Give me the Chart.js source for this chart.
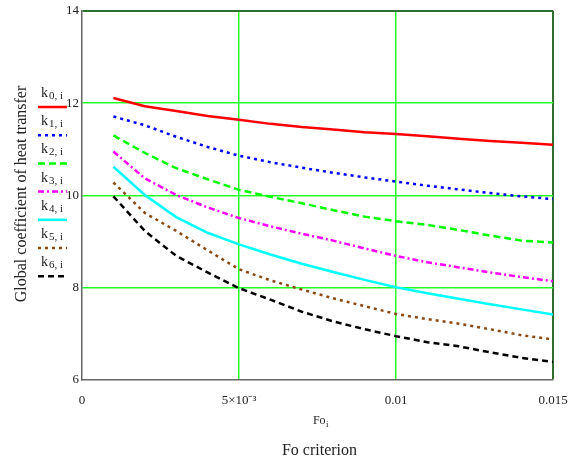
<!DOCTYPE html>
<html>
<head>
<meta charset="utf-8">
<script src="https://cdn.jsdelivr.net/npm/chart.js@4/dist/chart.umd.min.js"></script>
<style>
  html, body { margin: 0; padding: 0; background: #fff; }
  #wrap { width: 581px; height: 460px; position: relative; }
</style>
</head>
<body>
<div id="wrap"><canvas id="c" width="581" height="460"></canvas></div>
<script>
// ---- data ----
const fo = [0.001, 0.002, 0.003, 0.004, 0.005, 0.006, 0.007, 0.008, 0.009, 0.010, 0.011, 0.012, 0.013, 0.014, 0.015];
const k0 = [12.11, 11.93, 11.83, 11.72, 11.64, 11.55, 11.48, 11.43, 11.37, 11.33, 11.28, 11.23, 11.18, 11.14, 11.10];
const k1 = [11.71, 11.52, 11.27, 11.05, 10.86, 10.72, 10.60, 10.49, 10.39, 10.30, 10.21, 10.13, 10.05, 9.98, 9.92];
const k2 = [11.30, 10.92, 10.59, 10.35, 10.12, 9.97, 9.83, 9.68, 9.54, 9.44, 9.36, 9.25, 9.13, 9.02, 8.98];
const k3 = [10.95, 10.37, 10.01, 9.74, 9.51, 9.33, 9.17, 9.02, 8.85, 8.69, 8.55, 8.44, 8.33, 8.23, 8.14];
const k4 = [10.62, 10.01, 9.53, 9.19, 8.94, 8.72, 8.52, 8.34, 8.17, 8.01, 7.88, 7.76, 7.64, 7.53, 7.42];
const k5 = [10.28, 9.62, 9.23, 8.81, 8.40, 8.16, 7.96, 7.77, 7.60, 7.43, 7.32, 7.22, 7.10, 6.97, 6.88];
const k6 = [9.98, 9.23, 8.69, 8.33, 7.99, 7.74, 7.48, 7.27, 7.10, 6.95, 6.82, 6.73, 6.60, 6.48, 6.39];
const seriesNames = ['0, i', '1, i', '2, i', '3, i', '4, i', '5, i', '6, i'];
const xTickLabels = ['0', '5×10⁻³', '0.01', '0.015'];
const yTickLabels = ['6', '8', '10', '12', '14'];
const yTitle = 'Global coefficient of heat transfer';
const xSubTitle = ['Fo', 'i'];
const xTitle = 'Fo criterion';

// ---- styles ----
const series = [k0, k1, k2, k3, k4, k5, k6];
const colors = ['#ff0000', '#0000ff', '#00ff00', '#ff00ff', '#00ffff', '#8b4a14', '#000000'];
const dashes = [[], [3, 4], [7, 4], [6, 3, 2, 3], [], [3, 4], [6, 4]];
const SERIF = '"Liberation Serif", "Times New Roman", serif';
const TXT = '#222';
const LIME = 'rgb(40,255,40)';
const DKGREEN = 'rgb(47,110,47)';
const AXIS = '#666666';
const CLEAR = 'rgba(255,255,255,0)';

const datasets = series.map((arr, i) => ({
  label: 'k' + seriesNames[i],
  data: arr.map((v, j) => ({ x: fo[j], y: v })),
  borderColor: colors[i],
  backgroundColor: colors[i],
  borderDash: dashes[i],
  borderWidth: 2.5,
  pointRadius: 0,
  tension: 0,
  fill: false
}));

function gridColor(c) {
  const n = c.scale && c.scale.ticks ? c.scale.ticks.length : 0;
  if (c.index === 0) return CLEAR;
  if (c.index === n - 1) return DKGREEN;
  return LIME;
}
function gridWidth(c) {
  const n = c.scale && c.scale.ticks ? c.scale.ticks.length : 0;
  if (c.index === n - 1) return 2;
  return 1.5;
}

const decorPlugin = {
  id: 'decor',
  afterDraw(chart) {
    const ctx = chart.ctx;
    const area = chart.chartArea;
    ctx.save();
    // legend
    chart.data.datasets.forEach((ds, i) => {
      const ly = 107 + i * 28.2;
      ctx.fillStyle = TXT;
      ctx.textBaseline = 'alphabetic';
      ctx.textAlign = 'left';
      ctx.font = '14px ' + SERIF;
      ctx.fillText('k', 41, ly - 10);
      const kw = ctx.measureText('k').width;
      ctx.font = '11px ' + SERIF;
      ctx.fillText(seriesNames[i], 41 + kw + 1, ly - 8);
      ctx.strokeStyle = ds.borderColor;
      ctx.lineWidth = 2.5;
      ctx.setLineDash(ds.borderDash);
      ctx.beginPath();
      ctx.moveTo(38, ly);
      ctx.lineTo(67, ly);
      ctx.stroke();
      ctx.setLineDash([]);
    });
    // y title
    ctx.fillStyle = TXT;
    ctx.save();
    ctx.translate(26, 194);
    ctx.rotate(-Math.PI / 2);
    ctx.font = '16px ' + SERIF;
    ctx.textAlign = 'center';
    ctx.textBaseline = 'alphabetic';
    ctx.fillText(yTitle, 0, 0);
    ctx.restore();
    // x sub-title Fo_i
    const cx = (area.left + area.right) / 2;
    ctx.font = '12px ' + SERIF;
    const w1 = ctx.measureText(xSubTitle[0]).width;
    ctx.font = '9px ' + SERIF;
    const w2 = ctx.measureText(xSubTitle[1]).width;
    let sx = cx + 3 - (w1 + w2) / 2;
    ctx.textAlign = 'left';
    ctx.font = '12px ' + SERIF;
    ctx.fillText(xSubTitle[0], sx, 424);
    ctx.font = '9px ' + SERIF;
    ctx.fillText(xSubTitle[1], sx + w1 + 0.5, 427);
    // x title
    ctx.font = '16px ' + SERIF;
    ctx.textAlign = 'center';
    ctx.fillText(xTitle, cx + 2, 455);
    ctx.restore();
  }
};

new Chart(document.getElementById('c'), {
  type: 'line',
  data: { datasets },
  plugins: [decorPlugin],
  options: {
    responsive: false,
    animation: false,
    devicePixelRatio: 1,
    layout: { padding: { top: 8, right: 28, bottom: 0, left: 0 } },
    plugins: { legend: { display: false }, tooltip: { enabled: false }, title: { display: false } },
    scales: {
      x: {
        type: 'linear',
        min: 0,
        max: 0.015,
        afterFit(scale) { scale.height = 80; },
        afterBuildTicks(scale) {
          scale.ticks = xTickLabels.map((_, i) => ({ value: i * 0.005 }));
        },
        ticks: {
          padding: 13,
          color: TXT,
          font: { family: SERIF, size: 13 },
          maxRotation: 0,
          autoSkip: false,
          callback: (v, i) => xTickLabels[i]
        },
        grid: {
          drawTicks: false,
          color: gridColor,
          lineWidth: gridWidth
        },
        border: { display: true, color: AXIS, width: 1.5 }
      },
      y: {
        type: 'linear',
        min: 6,
        max: 14,
        afterFit(scale) { scale.width = 82; },
        afterBuildTicks(scale) {
          scale.ticks = yTickLabels.map((_, i) => ({ value: 6 + i * 2 }));
        },
        ticks: {
          padding: 3,
          color: TXT,
          font: { family: SERIF, size: 13 },
          callback: (v, i) => yTickLabels[i]
        },
        grid: {
          drawTicks: false,
          color: gridColor,
          lineWidth: gridWidth
        },
        border: { display: true, color: AXIS, width: 1.5 }
      }
    }
  }
});
</script>
</body>
</html>
